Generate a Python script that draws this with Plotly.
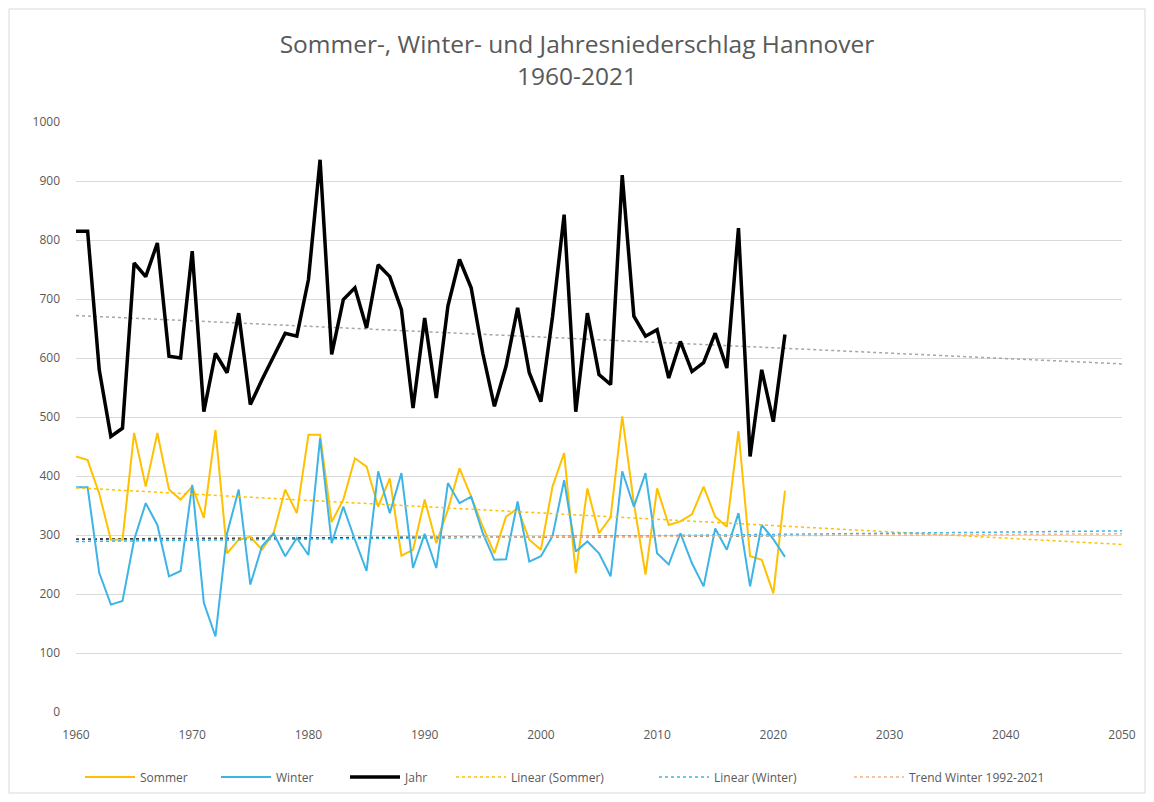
import plotly.graph_objects as go

# Niederschlag Hannover (mm)
years = list(range(1960, 2022))

jahr = [
    815, 815, 580, 467, 481, 761, 738, 795, 603, 600,
    781, 509, 608, 575, 676, 521, 563, 603, 642, 637,
    733, 936, 606, 699, 719, 651, 758, 738, 682, 515,
    668, 532, 688, 767, 719, 608, 518, 586, 685, 575,
    526, 670, 843, 509, 676, 572, 555, 910, 671, 637,
    648, 566, 628, 577, 592, 642, 583, 820, 433, 580,
    492, 640,
]

sommer = [
    433, 427, 370, 292, 292, 473, 382, 473, 377, 360,
    382, 329, 478, 269, 292, 297, 275, 303, 377, 337,
    470, 470, 322, 360, 430, 416, 348, 396, 265, 275,
    360, 286, 343, 413, 365, 314, 269, 331, 345, 292,
    275, 382, 439, 235, 379, 303, 330, 501, 354, 233,
    379, 317, 323, 335, 382, 331, 314, 476, 264, 258,
    201, 375,
]

winter = [
    381, 381, 236, 182, 188, 292, 354, 317, 230, 239,
    385, 185, 128, 303, 377, 216, 281, 303, 264, 295,
    266, 464, 286, 348, 292, 239, 408, 337, 405, 244,
    302, 244, 388, 354, 365, 303, 258, 259, 357, 255,
    264, 298, 393, 272, 289, 269, 230, 408, 348, 405,
    269, 250, 303, 252, 213, 311, 275, 337, 213, 317,
    293, 263,
]

trend_years = [1960, 2050]
lin_sommer = [380, 284]
lin_winter = [289, 307]
lin_jahr = [672, 590]
data_years = [1960, 2021]
lin_winter_data = [293, 299]
trend_winter_years = [1992, 2050]
trend_winter_1992 = [296, 302]

SOMMER_C = "#FFC000"
WINTER_C = "#3DB4E6"
TEXT_C = "#595959"
GRID_C = "#D9D9D9"

# The page body has an 8px margin, so the autosized figure is 1138x786 at (8, 8).
OFF = 8
FIG_W, FIG_H = 1154 - 2 * OFF, 802 - 2 * OFF
# plot area on screen: x 76..1122, y 122..712
PX0, PX1, PY0, PY1 = 76, 1122, 122, 712
L, R = PX0 - OFF, FIG_W + OFF - PX1
T, B = PY0 - OFF, FIG_H + OFF - PY1
PLOT_W = PX1 - PX0
PLOT_H = PY1 - PY0


def paper_x(px):
    return (px - PX0) / PLOT_W


def paper_y(py):
    return (PY1 - py) / PLOT_H


fig = go.Figure()

# unlabelled trendlines first (drawn underneath)
fig.add_trace(go.Scatter(
    x=trend_years, y=lin_jahr, mode="lines",
    line={"color": "#A6A6A6", "width": 1.5, "dash": "dot"},
    showlegend=False, hoverinfo="skip",
))
fig.add_trace(go.Scatter(
    x=data_years, y=lin_winter_data, mode="lines",
    line={"color": "#404040", "width": 1.8, "dash": "dot"},
    showlegend=False, hoverinfo="skip",
))

fig.add_trace(go.Scatter(
    x=years, y=sommer, mode="lines", name="Sommer", legend="legend",
    line={"color": SOMMER_C, "width": 2},
))
fig.add_trace(go.Scatter(
    x=years, y=winter, mode="lines", name="Winter", legend="legend2",
    line={"color": WINTER_C, "width": 2},
))
fig.add_trace(go.Scatter(
    x=years, y=jahr, mode="lines", name="Jahr", legend="legend3",
    line={"color": "#000000", "width": 3.5},
))
fig.add_trace(go.Scatter(
    x=trend_years, y=lin_sommer, mode="lines", name="Linear (Sommer)",
    legend="legend4",
    line={"color": SOMMER_C, "width": 1.5, "dash": "dot"},
))
fig.add_trace(go.Scatter(
    x=trend_years, y=lin_winter, mode="lines", name="Linear (Winter)",
    legend="legend5",
    line={"color": WINTER_C, "width": 1.5, "dash": "dot"},
))
fig.add_trace(go.Scatter(
    x=trend_winter_years, y=trend_winter_1992, mode="lines",
    name="Trend Winter 1992-2021", legend="legend6",
    line={"color": "#F4B183", "width": 1.5, "dash": "dot"},
))

# chart border like the Excel chart area
fig.add_shape(
    type="rect", xref="paper", yref="paper",
    x0=paper_x(OFF + 1), x1=paper_x(FIG_W + OFF - 1),
    y0=paper_y(FIG_H + OFF - 1), y1=paper_y(OFF + 1),
    line={"color": GRID_C, "width": 1}, layer="below",
)

# legend entries placed one by one (sample start x on screen)
legend_starts = [85, 221, 350, 456, 659, 854]
legend_names = ["legend", "legend2", "legend3", "legend4", "legend5", "legend6"]
legends = {}
for lname, px in zip(legend_names, legend_starts):
    legends[lname] = {
        "x": paper_x(px - 5),
        "xanchor": "left",
        "y": paper_y(777),
        "yanchor": "middle",
        "orientation": "h",
        "itemwidth": 50,
        "font": {"size": 12, "color": TEXT_C},
        "bgcolor": "rgba(0,0,0,0)",
    }

fig.update_layout(
    paper_bgcolor="white",
    plot_bgcolor="white",
    font={"family": "Open Sans, sans-serif", "color": TEXT_C, "size": 12},
    title={
        "text": "Sommer-, Winter- und Jahresniederschlag Hannover<br>1960-2021",
        "x": 0.5,
        "xanchor": "center",
        "xref": "container",
        "y": 1 - 45 / FIG_H,
        "yanchor": "top",
        "font": {"size": 24.5, "color": TEXT_C},
    },
    margin={"l": L, "r": R, "t": T, "b": B, "autoexpand": False},
    xaxis={
        "range": [1960, 2050],
        "tickmode": "linear",
        "tick0": 1960,
        "dtick": 10,
        "showgrid": False,
        "zeroline": False,
        "showline": False,
        "ticks": "",
        "ticklabelstandoff": 14,
        "tickfont": {"size": 12, "color": TEXT_C},
    },
    yaxis={
        "range": [0, 1000],
        "tickmode": "linear",
        "tick0": 0,
        "dtick": 100,
        "showgrid": True,
        "gridcolor": GRID_C,
        "gridwidth": 1,
        "zeroline": False,
        "showline": False,
        "ticks": "",
        "ticklabelstandoff": 15,
        "tickfont": {"size": 12, "color": TEXT_C},
    },
    showlegend=True,
    **legends,
)

fig.write_html("out.html")
